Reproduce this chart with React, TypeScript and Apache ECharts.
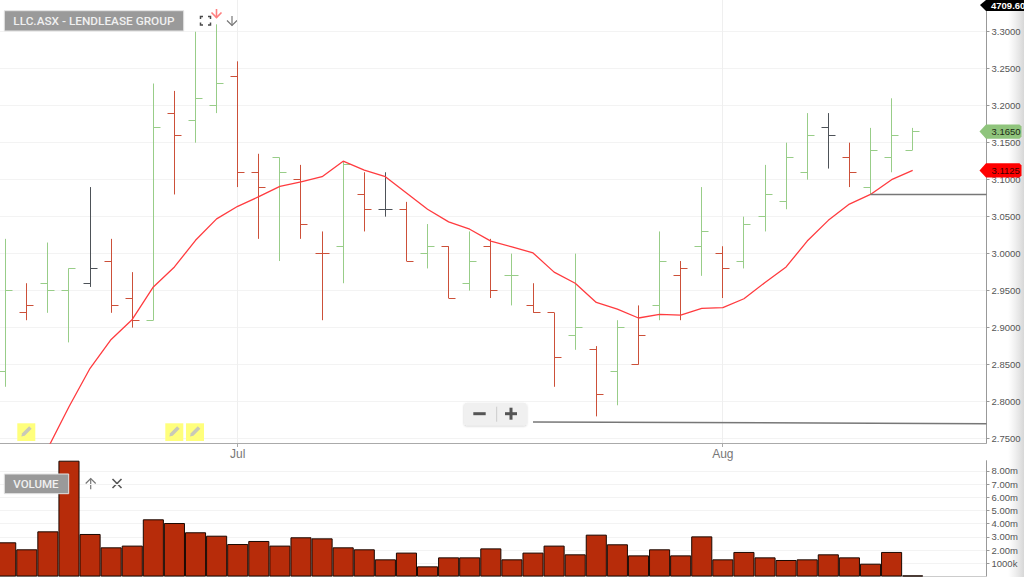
import React, { useEffect, useRef } from "react";
import * as echarts from "echarts";

const monthLabels: Record<number, string> = { 11: "Jul", 34: "Aug" };
const monthIndexes = [11, 34];
const categoryCount = 47;
const categories = Array.from({ length: categoryCount }, (_, i) => monthLabels[i] ?? "");

const opens = [2.84,2.92,2.96,2.95,2.96,2.99,2.94,2.91,3.19,3.18,3.20,3.24,3.11,3.13,3.10,3.00,3.01,3.08,3.06,3.06,3.00,3.01,2.96,3.01,2.97,2.93,2.92,2.89,2.87,2.84,2.85,2.93,2.97,3.01,3.00,2.99,3.05,3.07,3.11,3.17,3.13,3.09,3.13,3.14];
const closes = [2.95,2.93,2.95,2.98,2.98,2.93,2.91,3.17,3.16,3.21,3.23,3.11,3.09,3.11,3.04,3.00,3.12,3.06,3.06,2.99,3.01,2.94,2.99,2.95,2.97,2.92,2.86,2.90,2.81,2.90,2.89,2.99,2.98,3.03,2.98,3.04,3.08,3.13,3.16,3.16,3.11,3.14,3.16,3.165];
const highs = [3.02,2.96,3.015,2.98,3.09,3.02,2.975,3.23,3.22,3.30,3.31,3.26,3.135,3.13,3.12,3.03,3.125,3.11,3.11,3.07,3.04,3.01,3.03,3.02,3.00,2.96,2.92,3.00,2.875,2.91,2.93,3.03,2.99,3.09,3.01,3.05,3.12,3.15,3.19,3.19,3.15,3.17,3.21,3.17];
const lows = [2.82,2.91,2.92,2.88,2.955,2.92,2.90,2.91,3.08,3.15,3.19,3.09,3.02,2.99,3.02,2.91,2.96,3.03,3.05,2.99,2.98,2.94,2.95,2.94,2.93,2.92,2.82,2.87,2.78,2.795,2.85,2.91,2.91,2.97,2.94,2.98,3.03,3.06,3.10,3.115,3.09,3.08,3.11,3.14];
const directions = "g r g g k r r g r g g r r g r r g r k r g r g r g r r g r g r g r g r g g g g k r g g g".split(" ");
const average: (number | null)[] = [null,null,2.737,2.793,2.845,2.884,2.911,2.955,2.982,3.018,3.047,3.064,3.077,3.091,3.097,3.104,3.125,3.113,3.104,3.082,3.06,3.043,3.033,3.017,3.009,3.001,2.975,2.96,2.934,2.925,2.913,2.918,2.917,2.926,2.927,2.939,2.961,2.982,3.017,3.045,3.067,3.08,3.10,3.1125];
const volumes = [2.59,2.06,3.42,8.77,3.22,2.21,2.34,4.33,4.05,3.35,3.09,2.46,2.69,2.34,2.97,2.89,2.21,2.06,1.30,1.81,0.77,1.45,1.45,2.13,1.30,1.81,2.34,1.68,3.17,2.44,1.60,2.06,1.60,3.04,1.30,1.86,1.45,1.25,1.30,1.68,1.45,0.97,1.86,0.08];
const priceTicks = [2.75,2.8,2.85,2.9,2.95,3.0,3.05,3.1,3.15,3.2,3.25,3.3];
const volumeTicks = [1,2,3,4,5,6,7,8];
const trendLines = [[25, 2.7725, 2.77],[41, 3.08, 3.08]];
const priceTags = [[3.165, "#8fc47c", "#1d2a14"],[3.1125, "#ff0000", "#3a0000"]];

const barColors: Record<string, string> = { g: "#98cd88", r: "#cc5039", k: "#4d5258" };

function arrow(x: number, y0: number, y1: number, color: string, width = 1.2) {
  const dir = y1 > y0 ? -1 : 1;
  return [
    { type: "line", shape: { x1: x, y1: y0, x2: x, y2: y1 }, style: { stroke: color, lineWidth: width } },
    { type: "polyline", shape: { points: [[x - 5, y1 + dir * 5], [x, y1], [x + 5, y1 + dir * 5]] }, style: { stroke: color, fill: "none", lineWidth: width } },
  ];
}
function pencilBox(x: number) {
  return [
    { type: "rect", shape: { x, y: 423.3, width: 18, height: 17.7 }, style: { fill: "#ffff7c" }, z: 20 },
    { type: "polygon", shape: { points: [[x + 4, 436.6], [x + 4.8, 433.2], [x + 11.8, 426.2], [x + 14.4, 428.8], [x + 7.4, 435.8]] }, style: { fill: "#c9c9b8" }, z: 21 },
  ];
}
function bracket(points: number[][]) {
  return { type: "polyline", shape: { points }, style: { stroke: "#4a4a4a", fill: "none", lineWidth: 1.5 } };
}

export default function App() {
  const ref = useRef<HTMLDivElement>(null);
  useEffect(() => {
    const chart = echarts.init(ref.current!, undefined, { renderer: "svg" });
    const labelFont = { fontFamily: "Liberation Sans", fontSize: 9.5, color: "#555", padding: [0, 0, 2, 0] };
    const barData = opens.map((o, i) => [i, o, closes[i], lows[i], highs[i], directions[i]]);
    chart.setOption({
      animation: false,
      backgroundColor: "#fff",
      grid: [
        { left: -4.85, top: 0, width: 991.35, height: 443, outerBoundsMode: "none" },
        { left: -4.85, top: 460.7, width: 991.35, height: 115.8, outerBoundsMode: "none" },
      ],
      xAxis: [
        {
          gridIndex: 0, type: "category", data: categories, position: "bottom",
          axisLine: { lineStyle: { color: "#aaa", width: 1 } },
          axisTick: { show: false },
          axisLabel: { interval: 0, margin: 5, fontFamily: "Liberation Sans", fontSize: 12, color: "#777" },
          splitLine: { show: false },
        },
        {
          gridIndex: 1, type: "category", data: categories, position: "top",
          axisLine: { lineStyle: { color: "#ccc", width: 1 } },
          axisTick: { show: false }, axisLabel: { show: false }, splitLine: { show: false },
        },
      ],
      yAxis: [
        {
          gridIndex: 0, type: "value", position: "right", min: 2.744, max: 3.3429,
          axisLine: { show: true, lineStyle: { color: "#999", width: 1 } },
          axisTick: { show: true, length: 3, lineStyle: { color: "#999" }, customValues: priceTicks },
          axisLabel: { ...labelFont, margin: 5, customValues: priceTicks, formatter: (v: number) => v.toFixed(4) },
          splitLine: { show: true, lineStyle: { color: "#f3f3f3" } },
        },
        {
          gridIndex: 1, type: "value", position: "right", min: 0, max: 8.77,
          axisLine: { show: true, lineStyle: { color: "#999", width: 1 } },
          axisTick: { show: true, length: 3, lineStyle: { color: "#999" }, customValues: volumeTicks },
          axisLabel: { ...labelFont, margin: 5, customValues: volumeTicks, formatter: (v: number) => (v === 1 ? "1000k" : v.toFixed(2) + "m") },
          splitLine: { show: true, lineStyle: { color: "#f3f3f3" } },
        },
      ],
      series: [
        {
          type: "custom", name: "Months", xAxisIndex: 0, yAxisIndex: 0, data: monthIndexes.map((i) => [i, 3]),
          encode: { x: 0, y: 1 }, clip: false, z: 1,
          renderItem: (p: any, api: any) => {
            const x = Math.round(api.coord([api.value(0), 3])[0] - 0.5) + 0.5;
            const top = p.coordSys.y;
            const bottom = top + p.coordSys.height;
            return {
              type: "group",
              children: [
                { type: "line", shape: { x1: x, y1: top, x2: x, y2: bottom }, style: { stroke: "#efefef", lineWidth: 1 } },
                { type: "line", shape: { x1: x, y1: bottom, x2: x, y2: bottom + 4 }, style: { stroke: "#aaa", lineWidth: 1 } },
              ],
            };
          },
        },
        {
          type: "custom", name: "OHLC", xAxisIndex: 0, yAxisIndex: 0, clip: true, data: barData, z: 2,
          encode: { x: 0, y: [1, 2, 3, 4] },
          renderItem: (_p: any, api: any) => {
            const i = api.value(0);
            const snap = (v: number) => Math.round(v - 0.5) + 0.5;
            const x = snap(api.coord([i, 3])[0]);
            const yo = snap(api.coord([i, api.value(1)])[1]);
            const yc = snap(api.coord([i, api.value(2)])[1]);
            const yl = api.coord([i, api.value(3)])[1];
            const yh = api.coord([i, api.value(4)])[1];
            const stroke = barColors[directions[i]];
            const style = { stroke, lineWidth: 1 };
            return {
              type: "group",
              children: [
                { type: "line", shape: { x1: x, y1: yh, x2: x, y2: yl }, style },
                { type: "line", shape: { x1: x - 7, y1: yo, x2: x, y2: yo }, style },
                { type: "line", shape: { x1: x, y1: yc, x2: x + 7, y2: yc }, style },
              ],
            };
          },
        },
        {
          type: "line", name: "Average", xAxisIndex: 0, yAxisIndex: 0, data: average, clip: true,
          showSymbol: false, symbol: "none", connectNulls: false,
          lineStyle: { color: "#ff3b3f", width: 1.3 }, z: 5,
        },
        {
          type: "custom", name: "Trend", xAxisIndex: 0, yAxisIndex: 0, data: trendLines,
          encode: { x: 0, y: [1, 2] },
          renderItem: (p: any, api: any) => {
            const [x1, y1] = api.coord([api.value(0), api.value(1)]);
            const y2 = api.coord([api.value(0), api.value(2)])[1];
            return { type: "line", shape: { x1, y1, x2: p.coordSys.x + p.coordSys.width, y2 }, style: { stroke: "#777", lineWidth: 1.5 } };
          },
          z: 6,
        },
        {
          type: "custom", name: "Tags", xAxisIndex: 0, yAxisIndex: 0, data: priceTags.map((t) => [0, t[0]]),
          encode: { x: 0, y: 1 }, clip: false,
          renderItem: (p: any, api: any) => {
            const y = api.coord([0, api.value(1)])[1];
            const tag = priceTags[p.dataIndex];
            const x = p.coordSys.x + p.coordSys.width;
            return {
              type: "group",
              children: [
                { type: "polygon", shape: { points: [[x - 7, y], [x - 0.5, y - 7.2], [x + 33, y - 7.2], [x + 35, y - 5], [x + 35, y + 5], [x + 33, y + 7.2], [x - 0.5, y + 7.2]] }, style: { fill: tag[1] as string } },
                { type: "text", x: x + 5, y, style: { text: (tag[0] as number).toFixed(4), fill: tag[2] as string, font: "9.5px 'Liberation Sans'", textAlign: "left", textVerticalAlign: "middle" } },
              ],
            };
          },
          z: 8,
        },
        {
          type: "bar", name: "Volume", xAxisIndex: 1, yAxisIndex: 1, data: volumes, barWidth: "100%",
          itemStyle: { color: "#b72c0a", borderColor: "#1a0800", borderWidth: 1 }, z: 3,
        },
      ],
      graphic: [
        { type: "rect", shape: { x: 1008, y: 0, width: 16, height: 577 }, z: -1, silent: true,
          style: { fill: new echarts.graphic.LinearGradient(0, 0, 1, 0, [{ offset: 0, color: "rgba(225,225,225,0)" }, { offset: 1, color: "rgba(215,215,215,1)" }]) } },
        { type: "rect", shape: { x: 4.3, y: 10.7, width: 179.4, height: 20.3 }, style: { fill: "#9a9a9a", stroke: "#e4e4e4", lineWidth: 1 }, z: 20 },
        { type: "text", x: 13.3, y: 20.8, z: 21, style: { text: "LLC.ASX - LENDLEASE GROUP", fill: "#f0f0f0", font: "500 11.8px Roboto", textVerticalAlign: "middle" } },
        { type: "rect", shape: { x: 4.3, y: 474, width: 64.4, height: 19.7 }, style: { fill: "#9a9a9a", stroke: "#e4e4e4", lineWidth: 1 }, z: 20 },
        { type: "text", x: 13.3, y: 484, z: 21, style: { text: "VOLUME", fill: "#f0f0f0", font: "500 11.5px Roboto", textVerticalAlign: "middle" } },
        { type: "group", z: 20, children: [
          bracket([[200.5, 19], [200.5, 16.5], [203, 16.5]]), bracket([[208, 16.5], [210.5, 16.5], [210.5, 19]]),
          bracket([[200.5, 22.5], [200.5, 25], [203, 25]]), bracket([[208, 25], [210.5, 25], [210.5, 22.5]]),
          ...arrow(216.5, 9, 17.5, "#ff7f7f", 1.6),
          ...arrow(232, 16, 25.5, "#777"),
          ...arrow(90.7, 489.3, 478.5, "#777"),
          { type: "line", shape: { x1: 112.5, y1: 479, x2: 121.5, y2: 488 }, style: { stroke: "#555", lineWidth: 1.6 } },
          { type: "line", shape: { x1: 121.5, y1: 479, x2: 112.5, y2: 488 }, style: { stroke: "#555", lineWidth: 1.6 } },
        ] },
        ...pencilBox(17.3), ...pencilBox(165.3), ...pencilBox(186),
        { type: "rect", shape: { x: 464, y: 402.7, width: 62.7, height: 22.6, r: 3 }, z: 20, style: { fill: "#f0f0f0", shadowBlur: 2, shadowColor: "rgba(0,0,0,0.2)", shadowOffsetY: 1 } },
        { type: "line", shape: { x1: 473.3, y1: 413.7, x2: 485.7, y2: 413.7 }, z: 21, style: { stroke: "#555", lineWidth: 3 } },
        { type: "line", shape: { x1: 496.7, y1: 406.7, x2: 496.7, y2: 421.7 }, z: 21, style: { stroke: "#ccc", lineWidth: 1 } },
        { type: "line", shape: { x1: 505, y1: 413.7, x2: 517, y2: 413.7 }, z: 21, style: { stroke: "#555", lineWidth: 3 } },
        { type: "line", shape: { x1: 511, y1: 407.7, x2: 511, y2: 419.7 }, z: 21, style: { stroke: "#555", lineWidth: 3 } },
        { type: "polygon", z: 20, shape: { points: [[980, 5], [986, 0], [1024, 0], [1024, 11], [986, 11]] }, style: { fill: "#000" } },
        { type: "text", x: 991, y: 5.3, z: 21, style: { text: "4709.60", fill: "#fff", font: "bold 9.5px 'Liberation Sans'", textVerticalAlign: "middle" } },
      ],
    });
    return () => chart.dispose();
  }, []);
  return <div ref={ref} style={{ position: "fixed", left: 0, top: 0, width: 1024, height: 577 }} />;
}
